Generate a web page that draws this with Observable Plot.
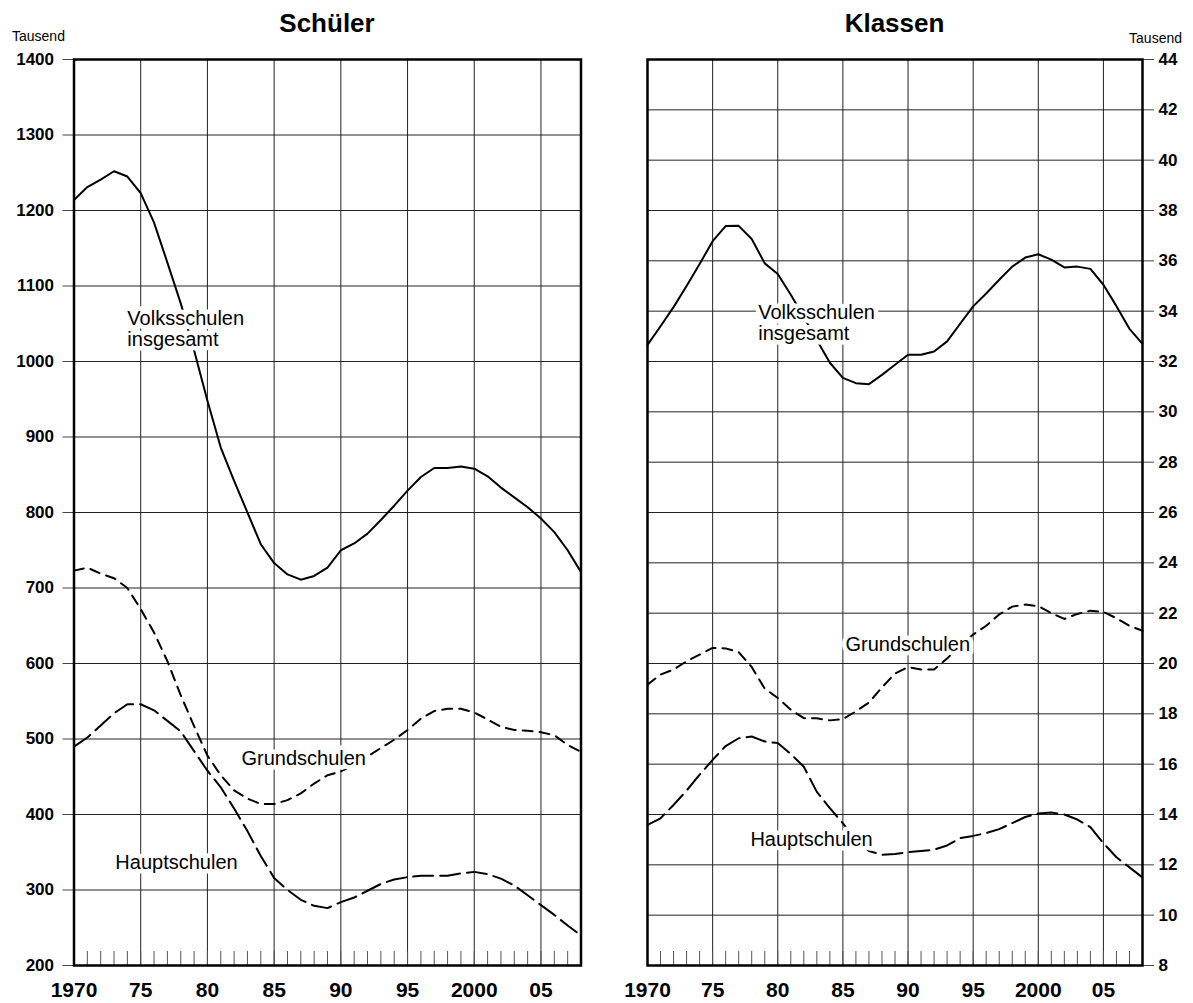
<!DOCTYPE html>
<html><head><meta charset="utf-8">
<script src="https://cdn.jsdelivr.net/npm/d3@7"></script>
<script src="https://cdn.jsdelivr.net/npm/@observablehq/plot@0.6"></script>
<style>
body{margin:0;background:#fff;}
#wrap{position:relative;width:1193px;height:1003px;font-family:"Liberation Sans",Arial,sans-serif;color:#000;background:#fff;}
.t{position:absolute;font-weight:bold;font-size:26px;line-height:26px;text-align:center;width:300px;z-index:2;}
.u{position:absolute;font-size:14px;line-height:14px;z-index:2;}
.p{position:absolute;top:0;z-index:1;}
</style></head><body>
<div id="wrap">
<div class="p" id="left" style="left:0px"></div>
<div class="p" id="right" style="left:600px"></div>
<div class="t" style="left:177px;top:10px">Schüler</div>
<div class="t" style="left:744.5px;top:10px">Klassen</div>
<div class="u" style="left:12px;top:29px">Tausend</div>
<div class="u" style="right:11px;top:31px">Tausend</div>
</div>
<script>
const years = [1970,1971,1972,1973,1974,1975,1976,1977,1978,1979,1980,1981,1982,1983,1984,1985,1986,1987,1988,1989,1990,1991,1992,1993,1994,1995,1996,1997,1998,1999,2000,2001,2002,2003,2004,2005,2006,2007,2008];

// Schüler (Tausend)
const schuelerVolksschulen = [1214,1231,1241,1252,1245,1223,1184,1131,1077,1015,948,886,842,800,758,733,718,711,716,727,750,759,772,790,809,829,847,859,859,861,858,848,833,820,807,792,774,750,721];
const schuelerGrundschulen = [723,727,719,713,700,672,641,603,558,517,478,452,432,421,414,414,419,428,441,452,457,466,477,488,499,512,527,537,540,540,535,526,516,512,511,509,505,492,483];
const schuelerHauptschulen = [490,502,518,534,546,546,538,524,510,484,458,436,408,378,345,316,300,287,279,276,284,290,299,308,314,317,319,319,319,322,324,321,315,306,293,280,267,253,240];

// Klassen (Tausend)
const klassenVolksschulen = [32.66,33.4,34.16,35.0,35.87,36.78,37.38,37.39,36.87,35.9,35.48,34.65,33.77,32.85,31.95,31.35,31.14,31.1,31.47,31.87,32.27,32.27,32.4,32.8,33.5,34.19,34.7,35.25,35.77,36.13,36.26,36.05,35.74,35.77,35.68,35.05,34.2,33.3,32.7];
const klassenGrundschulen = [19.16,19.56,19.76,20.09,20.35,20.62,20.6,20.45,19.86,19.0,18.63,18.16,17.83,17.82,17.74,17.79,18.1,18.45,19.05,19.6,19.86,19.76,19.76,20.2,20.7,21.15,21.5,21.95,22.26,22.34,22.28,22.0,21.77,21.97,22.1,22.05,21.8,21.5,21.3];
const klassenHauptschulen = [13.59,13.85,14.38,14.95,15.58,16.17,16.72,17.03,17.1,16.9,16.84,16.4,15.9,14.9,14.25,13.65,13.0,12.55,12.4,12.43,12.5,12.55,12.6,12.77,13.06,13.15,13.26,13.42,13.66,13.9,14.04,14.08,14.0,13.8,13.5,12.86,12.3,11.9,11.5];

const yearTicks = [1970,1975,1980,1985,1990,1995,2000,2005];
const schuelerTicks = [200,300,400,500,600,700,800,900,1000,1100,1200,1300,1400];
const klassenTicks = [8,10,12,14,16,18,20,22,24,26,28,30,32,34,36,38,40,42,44];

const schuelerLabels = [
  {x: 1974.0, y: 1068, text: "Volksschulen\ninsgesamt"},
  {x: 1982.55, y: 485, text: "Grundschulen"},
  {x: 1973.1, y: 347, text: "Hauptschulen"}
];
const klassenLabels = [
  {x: 1978.5, y: 34.3, text: "Volksschulen\ninsgesamt"},
  {x: 1985.2, y: 21.08, text: "Grundschulen"},
  {x: 1977.9, y: 13.34, text: "Hauptschulen"}
];

const yearLabel = y => (y === 1970 || y === 2000) ? String(y) : String(y % 100).padStart(2, "0");
const rows = values => years.map((year, i) => ({year, value: values[i]}));

function panel({volks, grund, haupt, yDomain, yTicks, labels, width, marginLeft, marginRight, anchor, tickPadding}) {
  return Plot.plot({
    width, height: 1003, marginLeft, marginRight, marginTop: 59, marginBottom: 38,
    x: {domain: [1970, 2008], label: null},
    y: {domain: yDomain, label: null},
    style: {fontFamily: "'Liberation Sans', Arial, sans-serif", background: "transparent", color: "black", overflow: "visible"},
    marks: [
      Plot.gridX(yearTicks.slice(1), {stroke: "#222", strokeOpacity: 1, strokeWidth: 1}),
      Plot.gridY(yTicks.slice(1, -1), {stroke: "#222", strokeOpacity: 1, strokeWidth: 1}),
      Plot.axisX(years, {tickSize: -14, tickFormat: () => "", stroke: "#555", label: null}),
      Plot.axisX(yearTicks, {tickSize: 0, tickPadding: 17, tickFormat: yearLabel, fontSize: 21, fontWeight: "bold", label: null}),
      Plot.axisY(yTicks, {anchor, tickSize: 11, tickPadding, tickFormat: d => String(d), fontSize: 17, fontWeight: "bold", stroke: "#444", label: null}),
      Plot.line(rows(volks), {x: "year", y: "value", stroke: "black", strokeWidth: 2}),
      Plot.line(rows(grund), {x: "year", y: "value", stroke: "black", strokeWidth: 2, strokeDasharray: "10,7"}),
      Plot.line(rows(haupt), {x: "year", y: "value", stroke: "black", strokeWidth: 2, strokeDasharray: "20,7"}),
      Plot.text(labels, {x: "x", y: "y", text: "text", textAnchor: "start", lineAnchor: "top", lineHeight: 1.05,
        fontSize: 20, fontWeight: "normal", fill: "black", stroke: "white", strokeWidth: 9}),
      Plot.frame({stroke: "black", strokeWidth: 2.5})
    ]
  });
}

document.getElementById("left").append(panel({
  volks: schuelerVolksschulen, grund: schuelerGrundschulen, haupt: schuelerHauptschulen,
  yDomain: [200, 1400], yTicks: schuelerTicks, labels: schuelerLabels,
  width: 600, marginLeft: 73.5, marginRight: 19.5, anchor: "left", tickPadding: 9
}));
document.getElementById("right").append(panel({
  volks: klassenVolksschulen, grund: klassenGrundschulen, haupt: klassenHauptschulen,
  yDomain: [8, 44], yTicks: klassenTicks, labels: klassenLabels,
  width: 593, marginLeft: 47, marginRight: 51, anchor: "right", tickPadding: 5
}));
</script>
</body></html>
